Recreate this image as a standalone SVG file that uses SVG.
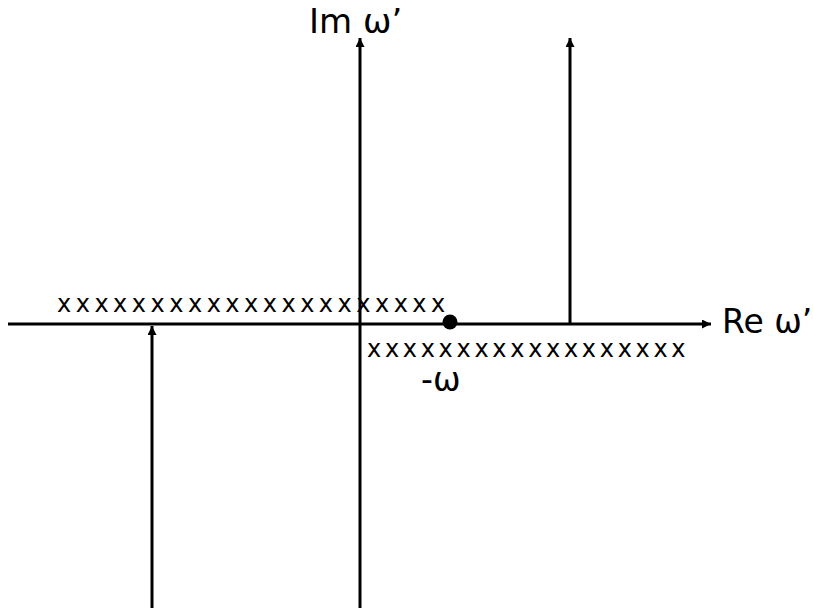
<svg xmlns="http://www.w3.org/2000/svg" width="813" height="613" viewBox="0 0 813 613">
<defs>
<style>
.ax{stroke:#000;stroke-width:3;fill:none}
.lbl{font-family:"DejaVu Sans",Verdana,sans-serif;font-size:33px;fill:#000}
.xs{font-family:"DejaVu Sans",Verdana,sans-serif;font-size:24px;fill:#000}
</style>
<marker id="ah" markerWidth="10" markerHeight="10" refX="9" refY="4.5" orient="auto" markerUnits="userSpaceOnUse">
<path d="M0,0 L9,4.5 L0,9 Z" fill="#000"/>
</marker>
</defs>
<rect width="813" height="613" fill="#fff"/>
<g id="connectors">
<line class="ax" x1="8" y1="324" x2="711" y2="324" marker-end="url(#ah)"/>
<line class="ax" x1="360" y1="608" x2="360" y2="38" marker-end="url(#ah)"/>
<line class="ax" x1="570" y1="324" x2="570" y2="38" marker-end="url(#ah)"/>
<line class="ax" x1="152" y1="608" x2="152" y2="326" marker-end="url(#ah)"/>
</g>
<g id="poles-upper"><text class="xs" x="57" y="312" style="letter-spacing:4.5px">xxxxxxxxxxxxxxxxxxxxx</text></g>
<g id="poles-lower"><text class="xs" x="367" y="357" style="letter-spacing:3.7px">xxxxxxxxxxxxxxxxxx</text></g>
<g id="point"><circle cx="450" cy="322" r="7.5" fill="#000"/></g>
<g id="label-im"><text class="lbl" x="309" y="33" style="font-size:34px">Im ω’</text></g>
<g id="label-re"><text class="lbl" x="722" y="333">Re ω’</text></g>
<g id="label-w"><text class="lbl" x="421" y="391">-ω</text></g>
</svg>
